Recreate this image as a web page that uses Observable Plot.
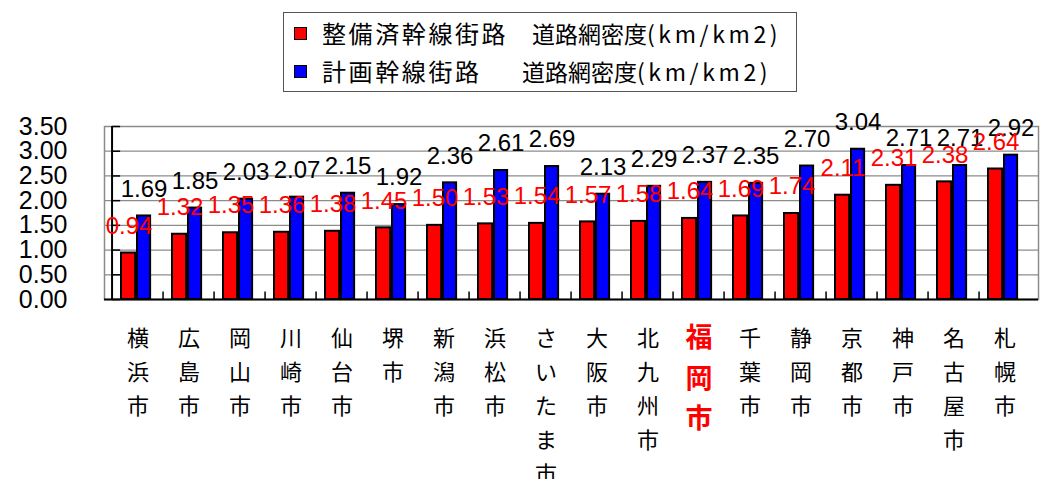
<!DOCTYPE html>
<html>
<head>
<meta charset="utf-8">
<script src="https://cdn.jsdelivr.net/npm/d3@7"></script>
<script src="https://cdn.jsdelivr.net/npm/@observablehq/plot@0.6"></script>
<style>
  body { margin: 0; background: #fff; font-family: "Noto Sans CJK JP", sans-serif; }
  #top { position: relative; height: 100px; width: 1049px; }
  #legend { position: absolute; left: 283px; top: 12px; width: 514px; height: 80px; border: 1px solid #555; box-sizing: border-box; }
  .row { position: absolute; left: 0; height: 30px; font-size: 24px; line-height: 30px; white-space: pre; color: #000; }
  .sw { position: absolute; left: 10px; top: 9px; width: 11px; height: 11px; border: 1px solid #000; }
  .lab { position: absolute; left: 38px; letter-spacing: 2.6px; }
  .unit { position: absolute; font-size: 23px; }
  .paren { letter-spacing: 3.6px; }
</style>
</head>
<body>
<div id="top">
  <div id="legend"></div>
</div>
<div id="chart"></div>
<script>
const cities = ["横浜市","広島市","岡山市","川崎市","仙台市","堺市","新潟市","浜松市","さいたま市","大阪市","北九州市","福岡市","千葉市","静岡市","京都市","神戸市","名古屋市","札幌市"];
const seibi =   [0.94,1.32,1.35,1.36,1.38,1.45,1.50,1.53,1.54,1.57,1.58,1.64,1.69,1.74,2.11,2.31,2.38,2.64];
const keikaku = [1.69,1.85,2.03,2.07,2.15,1.92,2.36,2.61,2.69,2.13,2.29,2.37,2.35,2.70,3.04,2.71,2.71,2.92];
const yTicks = [0,0.5,1,1.5,2,2.5,3,3.5];
const highlight = "福岡市";
const seriesNames = ["整備済幹線街路", "計画幹線街路"];
const unitName = "道路網密度";
const unitParen = "(km/km2)";
const seriesColors = ["#ff0000", "#0000ff"];

// legend
const legend = document.getElementById("legend");
seriesNames.forEach((name, i) => {
  const row = document.createElement("div");
  row.className = "row";
  row.style.top = (i === 0 ? 5 : 43) + "px";
  row.innerHTML = `<div class="sw" style="background:${seriesColors[i]}"></div><span class="lab">${name}</span><span class="unit" style="left:${i===0?248:238}px">${unitName}<span class="paren">${unitParen}</span></span>`;
  legend.appendChild(row);
});

const rows = cities.map((c, i) => ({city: c, seibi: seibi[i], keikaku: keikaku[i]}));
const normal = rows.filter(d => d.city !== highlight);
const special = rows.filter(d => d.city === highlight);
const half = (1049 - 104 - 11) / cities.length / 2;

const chart = Plot.plot({
  width: 1049,
  height: 379,
  marginTop: 26,
  marginBottom: 180,
  marginLeft: 104,
  marginRight: 11,
  style: {fontFamily: "'Liberation Sans', 'Noto Sans CJK JP', sans-serif", background: "#fff", color: "#000"},
  x: {domain: cities, padding: 0, axis: null},
  y: {domain: [0, 3.5]},
  marks: [
    Plot.ruleY(yTicks, {y: d => d, stroke: "#8c8c8c", strokeWidth: 1.2}),
    Plot.frame({stroke: "#8c8c8c", strokeWidth: 1.5}),
    Plot.tickY(yTicks, {y: d => d, x: () => cities[0], insetRight: 2 * half - 9, stroke: "#000", strokeWidth: 1.5}),
    Plot.ruleX(cities.slice(1), {x: d => d, dx: -half, y1: 0, y2: 0.15, stroke: "#000", strokeWidth: 1.5}),
    Plot.barY(rows, {x: "city", y: "seibi", fill: seriesColors[0], stroke: "#000", strokeWidth: 2, insetLeft: 9, insetRight: 2 * half - 24}),
    Plot.barY(rows, {x: "city", y: "keikaku", fill: seriesColors[1], stroke: "#000", strokeWidth: 2, insetLeft: 25, insetRight: 2 * half - 39}),
    Plot.ruleX([cities[0]], {x: d => d, dx: -half, y1: 0, y2: 3.5, stroke: "#000", strokeWidth: 2}),
    Plot.ruleY([0], {stroke: "#000", strokeWidth: 2}),
    Plot.axisY({ticks: yTicks, tickFormat: d => d.toFixed(2), tickSize: 0, tickPadding: 37, fontSize: 25, fill: "#000"}),
    Plot.text(rows, {x: "city", y: "keikaku", text: d => d.keikaku.toFixed(2), fill: "#000", dx: 6, dy: -27, fontSize: 24}),
    Plot.text(rows, {x: "city", y: "seibi", text: d => d.seibi.toFixed(2), fill: "#ff0000", dx: -9, dy: -27, fontSize: 24}),
    Plot.text(normal, {x: "city", y: () => 0, text: d => d.city.split("").join("\n"), lineAnchor: "top", lineHeight: 1.55, dy: 22, fontSize: 22, fill: "#000", fontFamily: "'Noto Sans CJK JP', sans-serif"}),
    Plot.text(special, {x: "city", y: () => 0, text: d => d.city.split("").join("\n"), lineAnchor: "top", lineHeight: 1.5, dy: 19, fontSize: 27, fontWeight: "bold", fill: "#ff0000", fontFamily: "'Noto Sans CJK JP', sans-serif"})
  ]
});
document.getElementById("chart").appendChild(chart);
</script>
</body>
</html>
